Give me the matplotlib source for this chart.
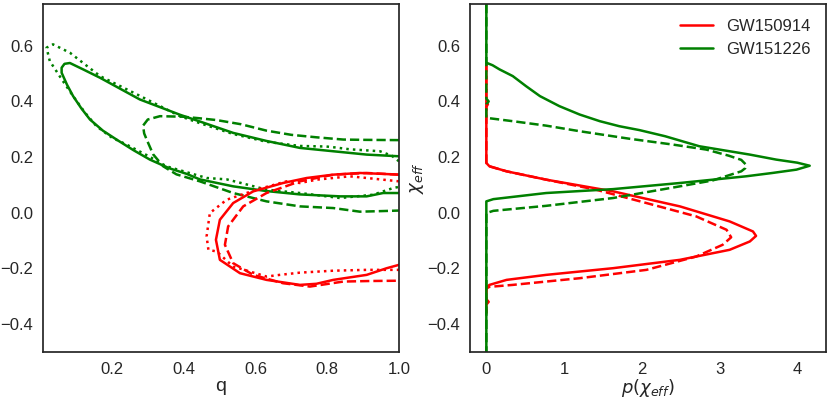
import numpy as np
import matplotlib
matplotlib.use("Agg")
import matplotlib.pyplot as plt
import seaborn as sns

sns.set_style("white")
plt.rcParams['font.family'] = ['Liberation Sans', 'DejaVu Sans']
plt.rcParams['axes.edgecolor'] = '.15'
plt.rcParams['axes.linewidth'] = 1.25

events = ["GW150914", "GW151226"]
colors = ["red", "green"]

# 90% contours in (q, chi_eff)
# GW151226: solid / dashed / dotted
g_solid_q = [1.0, 0.91, 0.817, 0.724, 0.631, 0.538, 0.445, 0.39, 0.278, 0.167, 0.12, 0.083,
             0.068, 0.06, 0.06, 0.075, 0.092, 0.115, 0.139, 0.175, 0.213, 0.26, 0.306, 0.36,
             0.408, 0.445, 0.538, 0.631, 0.724, 0.836, 0.91, 0.956, 1.0]
g_solid_c = [0.203, 0.209, 0.221, 0.233, 0.258, 0.287, 0.328, 0.352, 0.407, 0.485, 0.515, 0.538,
             0.535, 0.521, 0.503, 0.46, 0.419, 0.375, 0.335, 0.295, 0.263, 0.225, 0.191, 0.16,
             0.14, 0.12, 0.095, 0.078, 0.066, 0.059, 0.059, 0.071, 0.071]
g_dash_q = [1.0, 0.9, 0.845, 0.771, 0.7, 0.631, 0.56, 0.492, 0.44, 0.399, 0.334, 0.30, 0.287,
            0.29, 0.297, 0.315, 0.343, 0.38, 0.445, 0.538, 0.631, 0.724, 0.817, 0.891, 0.95, 1.0]
g_dash_c = [0.261, 0.262, 0.263, 0.271, 0.28, 0.295, 0.318, 0.333, 0.34, 0.345, 0.347, 0.335,
            0.313, 0.285, 0.263, 0.21, 0.167, 0.138, 0.113, 0.071, 0.041, 0.023, 0.017, 0.004,
            0.006, 0.008]
g_dot_q = [1.0, 0.98, 0.947, 0.90, 0.863, 0.82, 0.798, 0.724, 0.631, 0.538, 0.445, 0.39, 0.278,
           0.167, 0.083, 0.036, 0.018, 0.027, 0.06, 0.092, 0.125, 0.157, 0.2, 0.241, 0.3, 0.352,
           0.464, 0.52, 0.557, 0.631, 0.724, 0.836, 0.928, 0.984, 1.0]
g_dot_c = [0.185, 0.205, 0.221, 0.225, 0.228, 0.235, 0.238, 0.240, 0.255, 0.283, 0.322, 0.347,
           0.42, 0.491, 0.575, 0.605, 0.593, 0.545, 0.48, 0.419, 0.36, 0.311, 0.27, 0.245, 0.205,
           0.167, 0.125, 0.12, 0.108, 0.083, 0.071, 0.053, 0.065, 0.089, 0.093]

# GW150914: solid / dashed / dotted
r_solid_q = [1.0, 0.95, 0.891, 0.817, 0.743, 0.677, 0.594, 0.538, 0.501, 0.49, 0.501, 0.557,
             0.631, 0.724, 0.77, 0.817, 0.91, 0.966, 1.0]
r_solid_c = [0.137, 0.14, 0.143, 0.137, 0.125, 0.107, 0.077, 0.035, -0.025, -0.097, -0.169,
             -0.217, -0.241, -0.259, -0.255, -0.241, -0.223, -0.199, -0.187]
r_dash_q = [1.0, 0.91, 0.817, 0.724, 0.631, 0.566, 0.524, 0.515, 0.538, 0.594, 0.677, 0.752,
            0.845, 0.92, 1.0]
r_dash_c = [0.137, 0.143, 0.137, 0.113, 0.071, 0.023, -0.049, -0.115, -0.181, -0.223, -0.253,
            -0.265, -0.247, -0.245, -0.244]
r_dot_q = [1.0, 0.91, 0.863, 0.771, 0.724, 0.687, 0.603, 0.52, 0.473, 0.464, 0.469, 0.492,
           0.538, 0.631, 0.668, 0.724, 0.817, 0.91, 1.0]
r_dot_c = [0.113, 0.125, 0.131, 0.119, 0.107, 0.113, 0.083, 0.047, -0.001, -0.085, -0.133,
           -0.139, -0.193, -0.229, -0.223, -0.215, -0.208, -0.205, -0.205]

# marginal p(chi_eff)
r_chi = [0.54, 0.179, 0.167, 0.149, 0.119, 0.077, 0.023, -0.031, -0.067, -0.083, -0.103,
         -0.133, -0.169, -0.199, -0.223, -0.241, -0.259, -0.268, -0.36]
r_p = [0.0, 0.0, 0.04, 0.26, 0.77, 1.63, 2.49, 3.13, 3.43, 3.47, 3.39,
       3.13, 2.49, 1.63, 0.77, 0.26, 0.04, 0.0, 0.0]
r_chi_d = [0.54, 0.40, 0.39, 0.38, 0.179, 0.167, 0.149, 0.119, 0.083, 0.035, -0.013, -0.061,
           -0.088, -0.115, -0.157, -0.205, -0.235, -0.259, -0.266, -0.272, -0.31, -0.32,
           -0.33, -0.36]
r_p_d = [0.0, 0.0, 0.02, 0.0, 0.0, 0.04, 0.26, 0.77, 1.41, 2.06, 2.7, 3.09,
         3.15, 3.04, 2.7, 2.06, 1.2, 0.34, 0.04, 0.0, 0.0, 0.03, 0.0, 0.0]
g_chi = [0.75, 0.56, 0.539, 0.53, 0.515, 0.491, 0.455, 0.419, 0.383, 0.353, 0.329, 0.311,
         0.297, 0.275, 0.239, 0.209, 0.191, 0.18, 0.169, 0.155, 0.143, 0.131, 0.107, 0.085,
         0.071, 0.049, 0.041, -0.5]
g_p = [0.0, 0.0, 0.0, 0.08, 0.17, 0.34, 0.51, 0.69, 0.94, 1.2, 1.46, 1.71,
       1.97, 2.3, 2.74, 3.39, 3.73, 4.0, 4.16, 3.99, 3.68, 3.34, 2.49, 1.63,
       0.77, 0.09, 0.0, 0.0]
g_chi_d = [0.75, 0.41, 0.40, 0.39, 0.343, 0.341, 0.329, 0.313, 0.293, 0.266, 0.245, 0.227,
           0.205, 0.19, 0.173, 0.16, 0.149, 0.116, 0.095, 0.053, 0.025, 0.007, -0.001, -0.5]
g_p_d = [0.0, 0.0, 0.03, 0.0, 0.0, 0.0, 0.34, 0.77, 1.2, 1.84, 2.4, 2.83,
         3.12, 3.28, 3.34, 3.33, 3.28, 2.91, 2.49, 1.63, 0.77, 0.09, 0.0, 0.0]

fig = plt.figure(figsize=(8.31, 3.98), dpi=100)
ax1 = fig.add_axes([0.0517, 0.1156, 0.4284, 0.8744])
ax2 = fig.add_axes([0.5656, 0.1156, 0.4284, 0.8744])

lw = 1.8
ax1.plot(g_solid_q, g_solid_c, color=colors[1], lw=lw, ls='-')
ax1.plot(g_dash_q, g_dash_c, color=colors[1], lw=lw, ls='--')
ax1.plot(g_dot_q, g_dot_c, color=colors[1], lw=lw, ls=':')
ax1.plot(r_solid_q, r_solid_c, color=colors[0], lw=lw, ls='-')
ax1.plot(r_dash_q, r_dash_c, color=colors[0], lw=lw, ls='--')
ax1.plot(r_dot_q, r_dot_c, color=colors[0], lw=lw, ls=':')
ax1.set_xlim(0.008, 1.0)
ax1.set_ylim(-0.5, 0.75)
ax1.set_xticks([0.2, 0.4, 0.6, 0.8, 1.0])
ax1.set_yticks([-0.4, -0.2, 0.0, 0.2, 0.4, 0.6])
ax1.set_xlabel("q", fontsize=14, labelpad=1)

ax2.plot(r_p, r_chi, color=colors[0], lw=lw, label=events[0])
ax2.plot(r_p_d, r_chi_d, color=colors[0], lw=lw, ls='--')
ax2.plot(g_p, g_chi, color=colors[1], lw=lw, label=events[1])
ax2.plot(g_p_d, g_chi_d, color=colors[1], lw=lw, ls='--')
ax2.set_xlim(-0.21, 4.37)
ax2.set_ylim(-0.5, 0.75)
ax2.set_xticks([0, 1, 2, 3, 4])
ax2.set_yticks([-0.4, -0.2, 0.0, 0.2, 0.4, 0.6])
ax2.set_xlabel(r"$p(\chi_{eff})$", fontsize=13, labelpad=0)
ax2.set_ylabel(r"$\chi_{eff}$", fontsize=13, labelpad=1)
ax2.legend(loc='upper right', frameon=False, fontsize=12)

for ax in (ax1, ax2):
    ax.tick_params(labelsize=12, colors='.15')

fig.savefig("out.png", dpi=100)
